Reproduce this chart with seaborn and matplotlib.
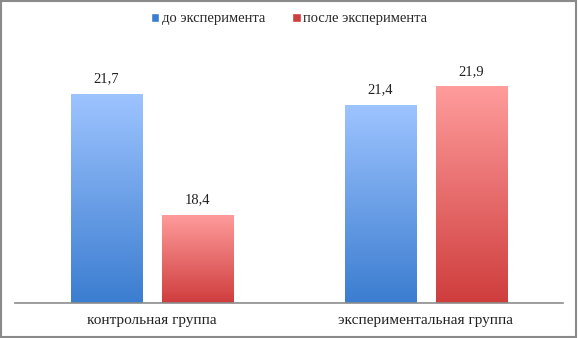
import matplotlib
matplotlib.use("Agg")
import matplotlib.pyplot as plt
import numpy as np
import pandas as pd
import seaborn as sns
from matplotlib.colors import LinearSegmentedColormap
from matplotlib.patches import Patch, Rectangle

# data
groups = ["контрольная группа", "экспериментальная группа"]
series = ["до эксперимента", "после эксперимента"]
before = [21.7, 21.4]
after = [18.4, 21.9]

# colours: (top, bottom) of each gradient
blue_top, blue_bottom = "#9ec4ff", "#3b7dd0"
red_top, red_bottom = "#ff9c9c", "#cf3d3d"

sns.set_theme(style="white")
plt.rcParams["font.family"] = ["Liberation Serif", "DejaVu Serif"]

df = pd.DataFrame({
    "group": groups * 2,
    "series": [series[0]] * len(groups) + [series[1]] * len(groups),
    "value": before + after,
})

fig = plt.figure(figsize=(5.78, 3.38), dpi=100)
ax = fig.add_axes([0.026, 0.1036, 0.948, 0.76])

sns.barplot(data=df, x="group", y="value", hue="series",
            palette=[blue_bottom, red_bottom], width=0.664, gap=0.21,
            ax=ax, legend=False, errorbar=None)

ax.set_ylim(16, 23)
ax.set_xlim(-0.5, 1.5)

cmaps = {
    "blue": LinearSegmentedColormap.from_list("b", [blue_bottom, blue_top]),
    "red": LinearSegmentedColormap.from_list("r", [red_bottom, red_top]),
}
grad = np.linspace(0, 1, 256).reshape(-1, 1)

for container, key in zip(ax.containers, ["blue", "red"]):
    for bar in container:
        x0, w = bar.get_x(), bar.get_width()
        y0, h = bar.get_y(), bar.get_height()
        bar.set_facecolor("none")
        bar.set_edgecolor("none")
        im = ax.imshow(grad, cmap=cmaps[key], origin="lower", aspect="auto",
                       extent=[x0, x0 + w, 16, y0 + h], zorder=2)
        im.set_clip_path(bar)
    labels = [f"{v:.1f}".replace(".", ",") for v in container.datavalues]
    ax.bar_label(container, labels=labels, padding=6, fontsize=10.5,
                 color="#222222")

ax.set_ylim(16, 23)
ax.set_xlim(-0.5, 1.5)
ax.set_xlabel("")
ax.set_ylabel("")
ax.set_yticks([])
ax.tick_params(axis="x", length=0, pad=8, labelsize=11, labelcolor="#222222")
for side in ["top", "left", "right"]:
    ax.spines[side].set_visible(False)
ax.spines["bottom"].set_color("#8c8c8c")
ax.spines["bottom"].set_linewidth(1.2)

handles = [Patch(facecolor=blue_bottom, label=series[0]),
           Patch(facecolor=red_bottom, label=series[1])]
fig.legend(handles=handles, loc="center", bbox_to_anchor=(0.5, 0.944),
           ncol=2, frameon=False, fontsize=10.5, handlelength=0.6,
           handleheight=0.6, handletextpad=0.2, columnspacing=1.8)

# outer frame
fig.patches.append(Rectangle((0.002, 0.003), 0.994, 0.994,
                             transform=fig.transFigure, fill=False,
                             edgecolor="#8a8a8a", linewidth=1.5))

fig.savefig("out.png", dpi=100)
